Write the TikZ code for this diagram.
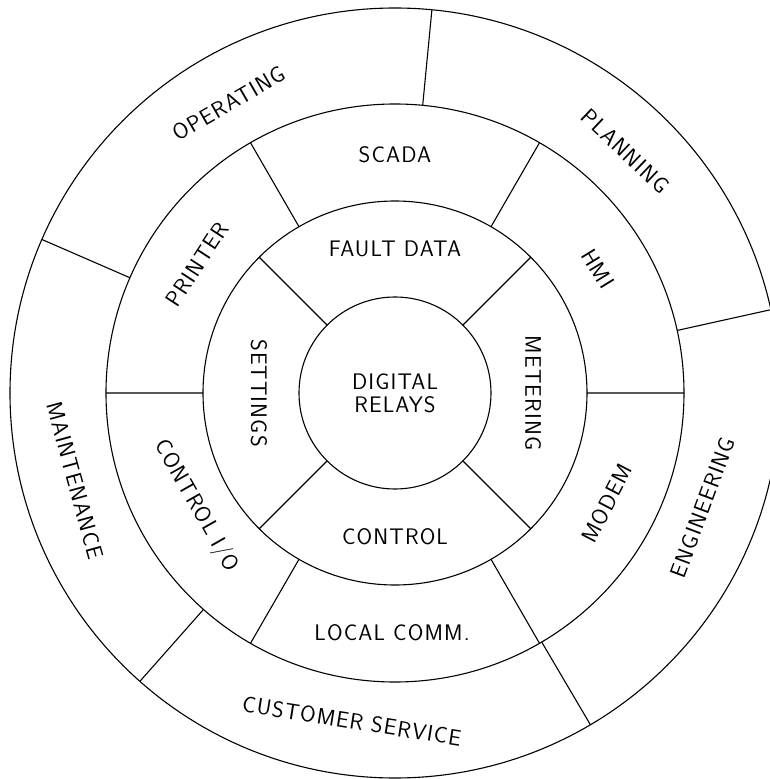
\documentclass[tikz,border=0pt]{standalone}
\usepackage{fontspec}
\usepackage{tikz}
\newfontfamily\ringfont{Latin Modern Sans}[LetterSpace=5]

\begin{document}
\begin{tikzpicture}[x=1pt,y=1pt,line width=1.1pt,ringtext/.style={font=\ringfont\fontsize{22.5}{23}\selectfont,inner sep=0pt,align=center}]
	\useasboundingbox (-395,-386) rectangle (374,393);

	% the four rings
	\draw (0,0) circle[radius=96pt];
	\draw (0,0) circle[radius=192pt];
	\draw (0,0) circle[radius=289pt];
	\draw (0,0) circle[radius=385pt];

	% dividers
	\draw	(45:96pt) -- (45:192pt)		(135:96pt) -- (135:192pt)
			(225:96pt) -- (225:192pt)	(315:96pt) -- (315:192pt);
	\draw	(0:192pt) -- (0:289pt)		(60:192pt) -- (60:289pt)
			(120:192pt) -- (120:289pt)	(180:192pt) -- (180:289pt)
			(240:192pt) -- (240:289pt)	(300:192pt) -- (300:289pt);
	\draw	(12.5:289pt) -- (12.5:385pt)	(84.5:289pt) -- (84.5:385pt)
			(156.5:289pt) -- (156.5:385pt)	(228.5:289pt) -- (228.5:385pt)
			(300.5:289pt) -- (300.5:385pt);

	\node[ringtext]					(relays)		at (0,0)			{DIGITAL\\RELAYS};
	\node[ringtext]					(faultdata)		at (90:144pt)		{FAULT DATA};
	\node[ringtext]					(control)		at (270:144pt)		{CONTROL};
	\node[ringtext,rotate=-90]		(settings)		at (180:136pt)		{SETTINGS};
	\node[ringtext,rotate=-90]		(metering)		at (0:138pt)		{METERING};

	\node[ringtext]					(scada)			at (90:238pt)		{SCADA};
	\node[ringtext,rotate=57]		(printer)		at (147:236pt)		{PRINTER};
	\node[ringtext,rotate=-58.5]	(hmi)			at (31.5:238pt)		{HMI};
	\node[ringtext,rotate=-60.4]	(controlio)		at (209.6:229pt)	{CONTROL I/O};
	\node[ringtext,rotate=62.5]		(modem)			at (332.5:239pt)	{MODEM};
	\node[ringtext]					(localcomm)		at (269.3:240pt)	{LOCAL COMM.};

	\node[ringtext,rotate=30]		(operating)		at (119.9:334pt)	{OPERATING};
	\node[ringtext,rotate=-43.6]	(planning)		at (46.4:334pt)		{PLANNING};
	\node[ringtext,rotate=-74.7]	(maintenance)	at (195.3:332pt)	{MAINTENANCE};
	\node[ringtext,rotate=69.6]		(engineering)	at (339.6:328pt)	{ENGINEERING};
	\node[ringtext,rotate=-9]		(custservice)	at (262.5:331pt)	{CUSTOMER SERVICE};
\end{tikzpicture}
\end{document}
